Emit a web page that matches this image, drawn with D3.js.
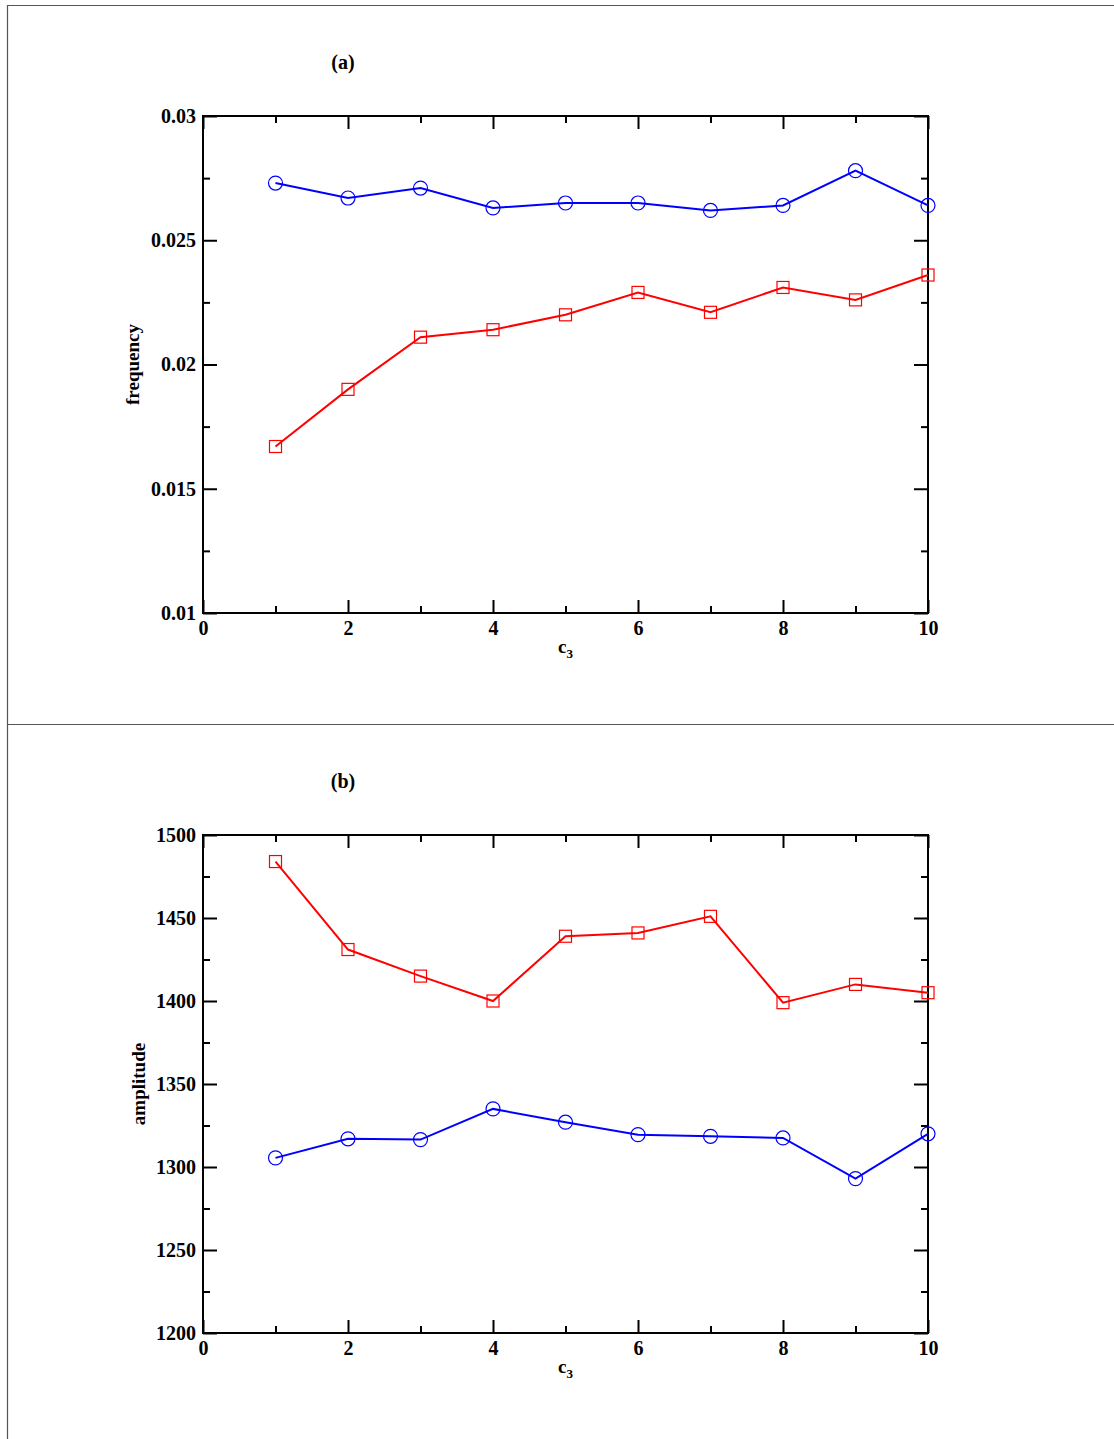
<!DOCTYPE html>
<html><head><meta charset="utf-8">
<script src="https://cdn.jsdelivr.net/npm/d3@7"></script>
<style>
body{margin:0;background:#fff;}
text{font-family:"Liberation Serif","Times New Roman",serif;font-weight:bold;}
</style></head>
<body>
<svg id="chart" width="1114" height="1439"></svg>
<script>
const c3 = [1,2,3,4,5,6,7,8,9,10];
const freqBlue = [0.0273,0.0267,0.0271,0.0263,0.0265,0.0265,0.0262,0.0264,0.0278,0.0264];
const freqRed  = [0.0167,0.0190,0.0211,0.0214,0.0220,0.0229,0.0221,0.0231,0.0226,0.0236];
const ampRed   = [1484,1431,1415,1400,1439,1441,1451,1399,1410,1405];
const ampBlue  = [1305.5,1317,1316.5,1335,1327,1319.5,1318.5,1317.5,1293,1320];
const xMajor = [0,2,4,6,8,10];
const xMinor = [1,3,5,7,9];
const freqMajor = [0.01,0.015,0.02,0.025,0.03];
const freqMinor = [0.0125,0.0175,0.0225,0.0275];
const ampMajor = [1200,1250,1300,1350,1400,1450,1500];
const ampMinor = [1225,1275,1325,1375,1425,1475];

const svg = d3.select("#chart");
// outer frame lines
svg.append("line").attr("x1",7).attr("x2",1114).attr("y1",5.5).attr("y2",5.5).attr("stroke","#555").attr("stroke-width",1.2);
svg.append("line").attr("x1",7.5).attr("x2",7.5).attr("y1",5).attr("y2",1439).attr("stroke","#555").attr("stroke-width",1.2);
svg.append("line").attr("x1",7).attr("x2",1114).attr("y1",724.5).attr("y2",724.5).attr("stroke","#555").attr("stroke-width",1.2);

function panel(cfg){
  const L=203,R=928,T=cfg.top,B=cfg.bottom;
  const x = d3.scaleLinear().domain([0,10]).range([L,R]);
  const y = d3.scaleLinear().domain(cfg.domain).range([B,T]);
  const g = svg.append("g");
  const fs = "20px";
  function styleAxis(sel){
    sel.select(".domain").remove();
    sel.selectAll(".tick line").attr("stroke","#000").attr("stroke-width",2);
    sel.selectAll("text").style("font-size",fs).attr("fill","#000");
  }
  // bottom
  g.append("g").attr("transform",`translate(0,${B})`)
    .call(d3.axisBottom(x).tickValues(xMajor).tickSize(-13).tickPadding(8).tickFormat(d3.format("d"))).call(styleAxis);
  g.append("g").attr("transform",`translate(0,${B})`)
    .call(d3.axisBottom(x).tickValues(xMinor).tickSize(-7).tickFormat("")).call(styleAxis);
  // top
  g.append("g").attr("transform",`translate(0,${T})`)
    .call(d3.axisTop(x).tickValues(xMajor).tickSize(-13).tickFormat("")).call(styleAxis);
  g.append("g").attr("transform",`translate(0,${T})`)
    .call(d3.axisTop(x).tickValues(xMinor).tickSize(-7).tickFormat("")).call(styleAxis);
  // left
  g.append("g").attr("transform",`translate(${L},0)`)
    .call(d3.axisLeft(y).tickValues(cfg.major).tickSize(-14).tickPadding(7).tickFormat(cfg.fmt)).call(styleAxis);
  g.append("g").attr("transform",`translate(${L},0)`)
    .call(d3.axisLeft(y).tickValues(cfg.minor).tickSize(-7).tickFormat("")).call(styleAxis);
  // right
  g.append("g").attr("transform",`translate(${R},0)`)
    .call(d3.axisRight(y).tickValues(cfg.major).tickSize(-14).tickFormat("")).call(styleAxis);
  g.append("g").attr("transform",`translate(${R},0)`)
    .call(d3.axisRight(y).tickValues(cfg.minor).tickSize(-7).tickFormat("")).call(styleAxis);
  // frame
  g.append("rect").attr("x",L).attr("y",T).attr("width",R-L).attr("height",B-T)
    .attr("fill","none").attr("stroke","#000").attr("stroke-width",2);

  const line = d3.line().x((d,i)=>x(c3[i])).y(d=>y(d));
  // series
  cfg.series.forEach(s=>{
    g.append("path").datum(s.values).attr("d",line).attr("fill","none")
      .attr("stroke",s.color).attr("stroke-width",2);
    if(s.marker==="circle"){
      g.selectAll(null).data(s.values).enter().append("circle")
        .attr("cx",(d,i)=>x(c3[i])).attr("cy",d=>y(d)).attr("r",7)
        .attr("fill","none").attr("stroke",s.color).attr("stroke-width",1.2);
    } else {
      g.selectAll(null).data(s.values).enter().append("rect")
        .attr("x",(d,i)=>x(c3[i])-6).attr("y",d=>y(d)-6).attr("width",12).attr("height",12)
        .attr("fill","none").attr("stroke",s.color).attr("stroke-width",1.2);
    }
  });
  // title
  g.append("text").attr("x",343).attr("y",cfg.titleY).attr("text-anchor","middle")
    .style("font-size","20px").text(cfg.title);
  // y label
  g.append("text").attr("transform",`translate(${cfg.ylabX},${(T+B)/2}) rotate(-90)`)
    .attr("text-anchor","middle").style("font-size","19px").text(cfg.ylabel);
  // x label c3
  const xl = g.append("text").attr("x",(L+R)/2).attr("y",B+40).attr("text-anchor","middle").style("font-size","19px");
  xl.append("tspan").text("c");
  xl.append("tspan").attr("dy",5).style("font-size","13px").text("3");
}

panel({top:116,bottom:613,domain:[0.01,0.03],major:freqMajor,minor:freqMinor,
  fmt:d=>String(+d.toFixed(3)),title:"(a)",titleY:69,ylabel:"frequency",ylabX:139,
  series:[{values:freqBlue,color:"#0000ff",marker:"circle"},{values:freqRed,color:"#ff0000",marker:"square"}]});
panel({top:835,bottom:1333,domain:[1200,1500],major:ampMajor,minor:ampMinor,
  fmt:d3.format("d"),title:"(b)",titleY:788,ylabel:"amplitude",ylabX:145,
  series:[{values:ampRed,color:"#ff0000",marker:"square"},{values:ampBlue,color:"#0000ff",marker:"circle"}]});
</script>
</body></html>
